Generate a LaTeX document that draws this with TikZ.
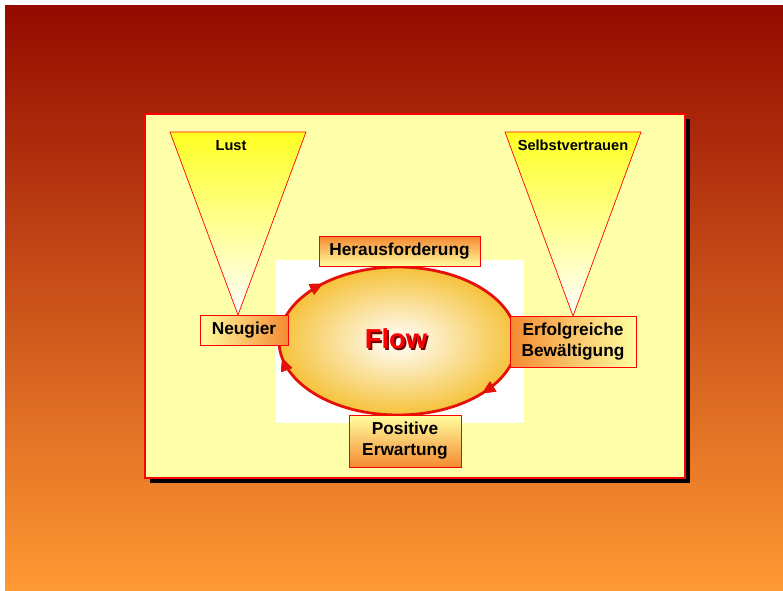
\documentclass[tikz,border=0pt]{standalone}
\usepackage{fontspec}
\setmainfont{Liberation Sans}
\usetikzlibrary{shapes.geometric,arrows.meta,decorations.markings}

\definecolor{bgtop}{HTML}{940A00}
\definecolor{bgbottom}{HTML}{FF9933}
\definecolor{panelcol}{HTML}{FFFFAA}
\definecolor{boxorange}{HTML}{F58A32}
\definecolor{boxyellow}{HTML}{FFFFA0}
\definecolor{conecol}{HTML}{FFFF22}
\definecolor{ringgold}{HTML}{F5C23A}
\definecolor{ringred}{HTML}{E4100A}
\definecolor{flowshade}{HTML}{700000}

\tikzset{
  stagebox/.style={rectangle, draw=red, line width=0.9pt, inner sep=0pt, align=center,
    font=\fontsize{17.3}{21}\selectfont\bfseries},
  conelabel/.style={font=\fontsize{14.6}{17}\selectfont\bfseries},
  cone/.style={draw=red, line width=0.7pt, top color=conecol, bottom color=white},
  ringarrow/.style={decoration={markings,
      mark=at position #1 with {\arrow{Triangle[length=13pt,width=11pt]}}}, postaction={decorate}},
}

\begin{document}
\begin{tikzpicture}[x=1pt,y=-1pt,line join=miter]
  \useasboundingbox (0,0) rectangle (783,590);
%%
  % Background
  \shade[top color=bgtop, bottom color=bgbottom] (5,5) rectangle (783,590);
  % Panel
  \fill[black] (150,119) rectangle (690,483);
  \draw[red, line width=1.5pt, fill=panelcol] (145,114) rectangle (685,478);
  % Cones
  \draw[cone] (170,132) -- (306,132) -- (238,315) -- cycle;
  \draw[cone] (505,132) -- (641,132) -- (573,316) -- cycle;
  \node[conelabel] (lust) at (231,146) {Lust};
  \node[conelabel] (trust) at (573,145) {Selbstvertrauen};
  % Node: Flow
  \fill[white] (276,260) rectangle (524,423);
  \node[ellipse, minimum width=238, minimum height=148, inner sep=0pt,
        inner color=white, outer color=ringgold] (flow) at (398,341) {};
  \draw[ringred, line width=2.8pt, ringarrow=0.107, ringarrow=0.472, ringarrow=0.624]
    (flow.center) ellipse [x radius=119, y radius=74];
  \node[font=\fontsize{27.4}{30}\selectfont\bfseries, text=flowshade] at (397.8,340.8) {Flow};
  \node[font=\fontsize{27.4}{30}\selectfont\bfseries, text=red] (flowlabel) at (396,339) {Flow};
  % Node: Herausforderung
  \node[stagebox, minimum width=161, minimum height=30,
        top color=boxorange, bottom color=boxyellow] (challenge) at (399.5,251.5) {Herausforderung};
  % Node: Neugier
  \node[stagebox, minimum width=88, minimum height=30,
        left color=boxyellow, right color=boxorange] (curiosity) at (244,330) {Neugier};
  % Node: Erfolgreiche Bewaeltigung
  \node[stagebox, minimum width=126, minimum height=51,
        left color=boxorange, right color=boxyellow] (success) at (573,341.5) {Erfolgreiche\\Bewältigung};
  % Node: Positive Erwartung
  \node[stagebox, minimum width=112, minimum height=52,
        top color=boxyellow, bottom color=boxorange] (expect) at (405,441) {Positive\\Erwartung};
%
\end{tikzpicture}
\end{document}
